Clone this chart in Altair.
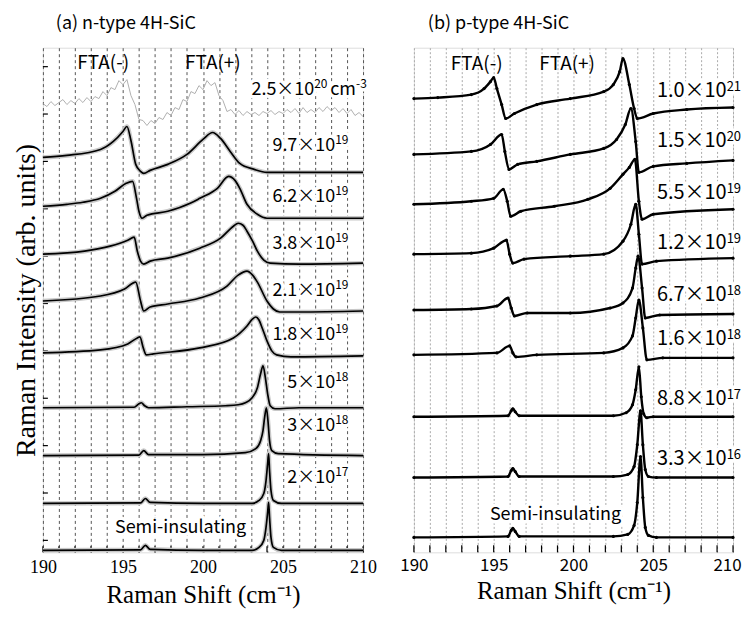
import altair as alt
import pandas as pd

XTICKS = list(range(190, 211))
YTICKS_A = [12, 59.5, 107, 154.5, 202, 249.5, 297, 344.5, 392, 439.5, 487]

# ---------------- panel (a): n-type 4H-SiC ----------------
A_NOISY_X = [190.0, 190.25, 190.5, 190.75, 191.0, 191.25, 191.5, 191.75, 192.0, 192.25, 192.5, 192.75,
             193.0, 193.25, 193.5, 193.75, 194.0, 194.25, 194.5, 194.75, 195.0, 195.25, 195.5, 195.75,
             196.0, 196.25, 196.5, 196.75, 197.0, 197.25, 197.5, 197.75, 198.0, 198.25, 198.5, 198.75,
             199.0, 199.25, 199.5, 199.75, 200.0, 200.25, 200.5, 200.75, 201.0, 201.25, 201.5, 201.75,
             202.0, 202.25, 202.5, 202.75, 203.0, 203.25, 203.5, 203.75, 204.0, 204.25, 204.5, 204.75,
             205.0, 205.25, 205.5, 205.75, 206.0, 206.25, 206.5, 206.75, 207.0, 207.25, 207.5, 207.75,
             208.0, 208.25, 208.5, 208.75, 209.0, 209.25, 209.5, 209.75, 210.0]
A_NOISY_Y = [450, 447, 452, 448, 451, 454, 449, 453, 450, 455, 451, 456,
             452, 457, 455, 462, 458, 466, 464, 473, 469, 474, 458, 449,
             434, 433, 428, 433, 430, 436, 434, 441, 438, 446, 444, 454,
             452, 462, 460, 468, 464, 473, 468, 471, 458, 453, 442, 444,
             439, 443, 438, 442, 439, 441, 438, 442, 440, 443, 439, 442,
             440, 444, 441, 445, 440, 446, 441, 444, 441, 446, 442, 447,
             443, 446, 441, 445, 440, 444, 438, 441, 437]

A97_X = [190, 191.5, 193.6, 194.4, 195.0, 195.25, 195.5, 195.8, 196.1, 196.3, 196.7, 197.8, 199.0,
         200.0, 200.6, 201.1, 201.7, 202.3, 203.2, 204.0, 206, 210]
A97_Y = [396, 398, 404, 412, 422, 427, 413, 389, 382, 380, 383, 389, 399,
         414, 421, 415, 402, 390, 384, 381, 381, 381]

A62_X = [190, 191.5, 192.5, 193.6, 194.5, 195.2, 195.6, 195.85, 196.0, 196.2, 196.5, 197.8, 199.2,
         199.8, 200.9, 201.6, 202.0, 202.3, 202.75, 203.4, 204.0, 206, 210]
A62_Y = [347, 349, 351, 355, 362, 370, 372, 355, 342, 335, 338, 342, 350,
         355, 365, 377, 373, 365, 349, 339, 335, 335, 335]

A38_X = [190, 192.6, 194.2, 195.3, 195.7, 195.9, 196.1, 196.3, 196.7, 197.8, 199.8, 201.1, 201.9,
         202.2, 202.5, 202.75, 203.1, 203.4, 203.8, 204.2, 206, 210]
A38_Y = [299, 302, 307, 313, 316, 302, 292, 289, 292, 295, 305, 315, 327,
         330, 328, 322, 312, 302, 293, 290, 289, 290]

A21_X = [190, 193.6, 195.1, 195.8, 196.1, 196.3, 196.7, 197.8, 199.8, 201.5, 202.2, 202.75, 203.1,
         203.4, 204.0, 204.4, 204.8, 206, 210]
A21_Y = [252, 257, 264, 271, 252, 242, 246, 249, 255, 267, 278, 282, 278,
         271, 252, 244, 241, 241, 242]

A18_X = [190, 193.6, 195.3, 195.9, 196.06, 196.27, 196.46, 196.9, 199.8, 201.9, 202.75, 203.1, 203.3,
         203.5, 203.7, 204.0, 204.3, 204.6, 205.5, 210]
A18_Y = [200, 203, 209, 215, 216, 205, 198, 199, 205, 215, 227, 234, 236,
         233, 225, 212, 202, 198, 196, 197]

A5E18_X = [190, 195.7, 196.0, 196.15, 196.35, 196.6, 199, 201.4, 202.2, 202.65, 203.07, 203.4, 203.6,
           203.75, 203.9, 204.04, 204.2, 204.5, 206, 210]
A5E18_Y = [145, 145.5, 149, 150, 147, 145, 146, 147, 148, 150, 155, 165, 179,
           187, 175, 159, 147, 144, 145, 145]

A3E18_X = [190, 196.0, 196.3, 196.6, 200, 202.65, 203.3, 203.6, 203.75, 203.85, 203.96, 204.06, 204.16,
           204.3, 204.7, 210]
A3E18_Y = [97, 97.5, 102, 98, 98, 100, 104, 112, 122, 135, 145, 132, 112,
           102, 99, 97]

A2E17_X = [190, 196.1, 196.4, 196.7, 200, 203.07, 203.5, 203.8, 203.94, 204.04, 204.1, 204.16, 204.25,
           204.4, 204.9, 210]
A2E17_Y = [49, 49.5, 54, 50, 49, 49, 52, 59, 72, 89, 99, 82, 62,
           52, 49, 49]

ASI_X = [190, 196.1, 196.4, 196.7, 200, 203.07, 203.5, 203.8, 203.94, 204.04, 204.1, 204.16, 204.25,
         204.4, 204.9, 210]
ASI_Y = [2, 2.5, 7, 3, 2, 2, 5, 12, 25, 40, 50, 35, 15,
         5, 2, 2]

A_NAMES = ["9.7e19", "6.2e19", "3.8e19", "2.1e19", "1.8e19", "5e18", "3e18", "2e17", "SI"]
A_XS = [A97_X, A62_X, A38_X, A21_X, A18_X, A5E18_X, A3E18_X, A2E17_X, ASI_X]
A_YS = [A97_Y, A62_Y, A38_Y, A21_Y, A18_Y, A5E18_Y, A3E18_Y, A2E17_Y, ASI_Y]

LAB_A_MAIN = ["2.5×10", "cm", "9.7×10", "6.2×10", "3.8×10", "2.1×10", "1.8×10", "5×10", "3×10", "2×10"]
LAB_A_SUP = ["20", "-3", "19", "19", "19", "19", "19", "18", "18", "17"]
LAB_A_X = [206.95, 209.56, 208.26, 208.26, 208.26, 208.26, 208.26, 208.26, 208.26, 208.26]
LAB_A_Y = [464, 464, 407, 356, 309.5, 262.5, 217.5, 169.5, 126.5, 74.5]

FTA_A_TEXT = ["FTA(-)", "FTA(+)"]
FTA_A_X = [193.77, 200.62]
FTA_A_Y = [491, 491]
SI_A_X = [198.6]
SI_A_Y = [24]
TITLE_A = ["(a) n-type 4H-SiC"]
TITLE_A_X = [190.81]
TITLE_Y = [530]

# ---------------- panel (b): p-type 4H-SiC ----------------
B1E21_X = [190, 191.5, 193.6, 194.4, 194.8, 195.0, 195.2, 195.5, 195.75, 196.3, 197.7, 199.8, 201.9,
           202.5, 202.9, 203.1, 203.5, 203.8, 204.0, 205.0, 207.1, 210]
B1E21_Y = [455, 456, 459, 465, 472, 476, 465, 449, 435, 440, 449, 455, 462,
           469, 482, 495, 469, 445, 435, 440, 444, 446]

B15E20_X = [190, 193.6, 194.8, 195.5, 195.7, 195.96, 196.5, 197.7, 199.8, 201.9, 202.7, 203.25, 203.6,
            203.9, 204.1, 205.0, 207.1, 210]
B15E20_Y = [399, 402, 409, 419, 402, 384, 389, 392, 399, 405, 414, 429, 445,
            412, 381, 387, 390, 393]

B55E19_X = [190, 193.6, 195.0, 195.6, 195.85, 196.06, 196.7, 198.8, 200.9, 202.3, 203.1, 203.5, 203.85,
            204.1, 204.3, 205.0, 210]
B55E19_Y = [349, 352, 355, 364, 352, 337, 342, 347, 354, 365, 379, 386, 394,
            352, 334, 339, 344]

B12E19_X = [190, 193.6, 195.0, 195.8, 196.0, 196.2, 196.9, 199.8, 201.9, 203.1, 203.6, 203.9, 204.1,
            204.3, 205.2, 210]
B12E19_Y = [299, 300, 305, 313, 299, 290, 294, 297, 299, 312, 329, 349, 319,
            289, 292, 295]

B67E18_X = [190, 193.6, 195.2, 195.9, 196.1, 196.3, 197.1, 199.8, 202.3, 203.1, 203.7, 203.9, 204.05,
            204.3, 204.5, 205.4, 210]
B67E18_Y = [243, 244, 247, 255, 245, 237, 240, 240, 245, 250, 265, 285, 297,
            265, 235, 238, 239]

B16E18_X = [190, 195.2, 196.0, 196.2, 196.4, 197.7, 201.9, 203.1, 203.7, 203.9, 204.1, 204.35, 204.6,
            205.6, 210]
B16E18_Y = [198, 200, 207, 200, 196, 198, 200, 205, 217, 235, 253, 225, 193,
            195, 195]

B88E17_X = [190, 195.9, 196.1, 196.2, 196.35, 196.6, 202.5, 203.3, 203.7, 203.9, 204.1, 204.25, 204.4,
            204.6, 205, 210]
B88E17_Y = [136, 137, 142, 144, 141, 137, 137, 140, 148, 163, 186, 156, 139,
            135, 136, 136]

B33E16_X = [190, 195.9, 196.1, 196.2, 196.35, 196.6, 202.5, 203.4, 203.8, 204.0, 204.2, 204.35, 204.5,
            204.7, 205.2, 210]
B33E16_Y = [75, 76, 82, 84, 81, 76, 76, 78, 86, 108, 142, 108, 83,
            76, 75, 75]

BSI_X = [190, 195.9, 196.1, 196.2, 196.35, 196.6, 202.5, 203.4, 203.8, 204.0, 204.2, 204.35, 204.5,
         204.7, 205.2, 210]
BSI_Y = [15, 16, 22, 24, 21, 16, 16, 18, 27, 50, 96, 55, 25,
         17, 15, 15]

B_NAMES = ["1.0e21", "1.5e20", "5.5e19", "1.2e19", "6.7e18", "1.6e18", "8.8e17", "3.3e16", "SI"]
B_XS = [B1E21_X, B15E20_X, B55E19_X, B12E19_X, B67E18_X, B16E18_X, B88E17_X, B33E16_X, BSI_X]
B_YS = [B1E21_Y, B15E20_Y, B55E19_Y, B12E19_Y, B67E18_Y, B16E18_Y, B88E17_Y, B33E16_Y, BSI_Y]

LAB_B_MAIN = ["1.0×10", "1.5×10", "5.5×10", "1.2×10", "6.7×10", "1.6×10", "8.8×10", "3.3×10"]
LAB_B_SUP = ["21", "20", "19", "19", "18", "18", "17", "16"]
LAB_B_X = [209.6] * 8
LAB_B_Y = [463, 412, 360, 310, 258, 214, 154, 94]

FTA_B_TEXT = ["FTA(-)", "FTA(+)"]
FTA_B_X = [193.94, 199.6]
FTA_B_Y = [490, 490]
SI_B_X = [198.875]
SI_B_Y = [37]
TITLE_B = ["(b) p-type 4H-SiC"]
TITLE_B_X = [190.875]

# ---------------- helpers ----------------
def curves_df(names, xs_list, ys_list):
    rows = []
    for n, xs, ys in zip(names, xs_list, ys_list):
        for x, y in zip(xs, ys):
            rows.append({"curve": n, "shift": x, "intensity": y})
    return pd.DataFrame(rows)


H = 506
WA = 321
WB = 320
SERIF = "Liberation Serif"
GOTH = "Noto Sans CJK JP"
XSCALE = alt.Scale(domain=[190, 210], nice=False, zero=False)
YSCALE = alt.Scale(domain=[0, H], nice=False, zero=False)
LABEL_EXPR = "datum.value % 5 === 0 ? datum.label : ''"

x_a = alt.X("shift:Q", scale=XSCALE, axis=alt.Axis(
    values=XTICKS, grid=True, gridDash=[3, 3], gridColor="#555", gridWidth=1,
    ticks=False, domain=False, labelExpr=LABEL_EXPR, labelOverlap=False, labelFlush=False,
    labelFont=SERIF, labelFontSize=18, labelColor="black", labelPadding=6,
    title="Raman Shift (cm⁻¹)", titleFont=SERIF, titleFontSize=25, titleFontWeight="normal",
    titleColor="black", titlePadding=6))
y_a = alt.Y("intensity:Q", scale=YSCALE, axis=alt.Axis(
    labels=False, ticks=False, domain=False, grid=False,
    title="Raman Intensity (arb. units)", titleFont=SERIF, titleFontSize=28,
    titleFontWeight="normal", titleColor="black", titlePadding=2))

x_b = alt.X("shift:Q", scale=XSCALE, axis=alt.Axis(
    values=XTICKS, grid=True, gridDash=[2, 2], gridColor="#aaa", gridWidth=1,
    ticks=False, domain=False, labelExpr=LABEL_EXPR, labelOverlap=False, labelFlush=False,
    labelOffset={"condition": {"test": "datum.value === 210", "value": -6}, "value": 0},
    labelFont=GOTH, labelFontSize=17, labelColor="black", labelPadding=5,
    title="Raman Shift (cm⁻¹)", titleFont=SERIF, titleFontSize=25, titleFontWeight="normal",
    titleColor="black", titlePadding=5))
y_b = alt.Y("intensity:Q", scale=YSCALE, axis=None)


def label_layers(x_enc, y_enc, main, sup, xs, ys, size, sup_size, sup_dy):
    df = pd.DataFrame({"shift": xs, "intensity": ys, "main": main, "sup": sup})
    base = alt.Chart(df)
    halo_main = base.mark_text(align="right", baseline="middle", font=GOTH, fontSize=size,
                               color="white", stroke="white", strokeWidth=7,
                               strokeJoin="round").encode(x=x_enc, y=y_enc, text="main:N")
    halo_sup = base.mark_text(align="left", baseline="middle", font=GOTH, fontSize=sup_size,
                              dy=sup_dy, color="white", stroke="white", strokeWidth=7,
                              strokeJoin="round").encode(x=x_enc, y=y_enc, text="sup:N")
    txt_main = base.mark_text(align="right", baseline="middle", font=GOTH, fontSize=size,
                              color="black").encode(x=x_enc, y=y_enc, text="main:N")
    txt_sup = base.mark_text(align="left", baseline="middle", font=GOTH, fontSize=sup_size,
                             dy=sup_dy, color="black").encode(x=x_enc, y=y_enc, text="sup:N")
    return [halo_main, halo_sup, txt_main, txt_sup]


def plain_text(x_enc, y_enc, texts, xs, ys, size, halo, align="center"):
    df = pd.DataFrame({"shift": xs, "intensity": ys, "t": texts})
    base = alt.Chart(df)
    out = []
    if halo:
        out.append(base.mark_text(align=align, baseline="middle", font=GOTH, fontSize=size,
                                  color="white", stroke="white", strokeWidth=7,
                                  strokeJoin="round").encode(x=x_enc, y=y_enc, text="t:N"))
    out.append(base.mark_text(align=align, baseline="middle", font=GOTH, fontSize=size,
                              color="black").encode(x=x_enc, y=y_enc, text="t:N"))
    return out


ticks_df = pd.DataFrame({"shift": XTICKS})
yticks_df = pd.DataFrame({"intensity": YTICKS_A})

# ---------------- build panel (a) ----------------
df_a = curves_df(A_NAMES, A_XS, A_YS)
noisy_df = pd.DataFrame({"shift": A_NOISY_X, "intensity": A_NOISY_Y})

ticks_a = alt.Chart(ticks_df).mark_rule(color="black", strokeWidth=1.2).encode(
    x=x_a, y=alt.value(H), y2=alt.value(H - 6))
yticks_a = alt.Chart(yticks_df).mark_rule(color="black", strokeWidth=1.2).encode(
    y=y_a, x=alt.value(0), x2=alt.value(5))
shadow_a = alt.Chart(df_a).mark_line(color="#c8c8c8", strokeWidth=4.5, interpolate="monotone").encode(
    x=x_a, y=y_a, detail="curve:N")
noisy_a = alt.Chart(noisy_df).mark_line(color="#b0b0b0", strokeWidth=1).encode(x=x_a, y=y_a)
lines_a = alt.Chart(df_a).mark_line(color="black", strokeWidth=1.7, interpolate="monotone").encode(
    x=x_a, y=y_a, detail="curve:N")

layers_a = [ticks_a, yticks_a, shadow_a, noisy_a, lines_a]
layers_a += label_layers(x_a, y_a, LAB_A_MAIN, LAB_A_SUP, LAB_A_X, LAB_A_Y, 18, 12, -6)
layers_a += plain_text(x_a, y_a, FTA_A_TEXT, FTA_A_X, FTA_A_Y, 19, False)
layers_a += plain_text(x_a, y_a, ["Semi-insulating"], SI_A_X, SI_A_Y, 18, True)
layers_a += plain_text(x_a, y_a, TITLE_A, TITLE_A_X, TITLE_Y, 18, False, align="left")

panel_a = alt.layer(*layers_a).properties(width=WA, height=H)

# ---------------- build panel (b) ----------------
df_b = curves_df(B_NAMES, B_XS, B_YS)
ticks_b = alt.Chart(ticks_df).mark_rule(color="black", strokeWidth=1.2).encode(
    x=x_b, y=alt.value(H), y2=alt.value(H - 7))
lines_b = alt.Chart(df_b).mark_line(color="black", strokeWidth=2.4, interpolate="monotone").encode(
    x=x_b, y=y_b, detail="curve:N")
pts_b = alt.Chart(df_b).mark_circle(color="black", size=10, opacity=1).encode(
    x=x_b, y=y_b, detail="curve:N")

layers_b = [ticks_b, lines_b, pts_b]
layers_b += label_layers(x_b, y_b, LAB_B_MAIN, LAB_B_SUP, LAB_B_X, LAB_B_Y, 20, 13, -4)
layers_b += plain_text(x_b, y_b, FTA_B_TEXT, FTA_B_X, FTA_B_Y, 19, False)
layers_b += plain_text(x_b, y_b, ["Semi-insulating"], SI_B_X, SI_B_Y, 18, True)
layers_b += plain_text(x_b, y_b, TITLE_B, TITLE_B_X, TITLE_Y, 18, False, align="left")

panel_b = alt.layer(*layers_b).properties(width=WB, height=H)

chart = alt.hconcat(panel_a, panel_b, spacing=22).properties(
    padding={"left": 4, "top": 5, "right": 0, "bottom": 0}
).configure_view(stroke="#222", strokeWidth=1.5).configure(background="white")

chart.save("out.html", embed_options={"renderer": "svg", "actions": False})
